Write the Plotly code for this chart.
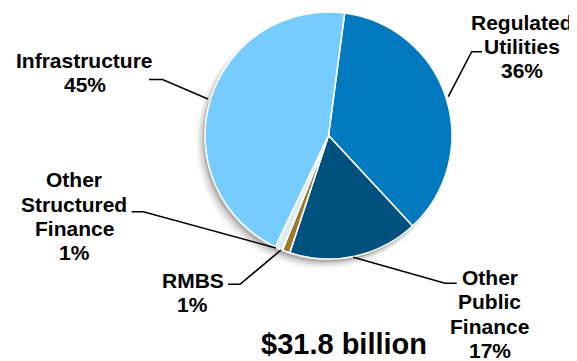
import plotly.graph_objects as go

# ---------------- data ----------------
categories = ["Regulated Utilities", "Other Public Finance", "RMBS",
              "Other Structured Finance", "Infrastructure"]
shares = [36, 17, 1, 1, 45]
colors = ["#0079BF", "#00527E", "#9C7A2C", "#DCEBF4", "#76CCFF"]
label_lines = {
    "Regulated Utilities": ["Regulated", "Utilities"],
    "Other Public Finance": ["Other", "Public", "Finance"],
    "RMBS": ["RMBS"],
    "Other Structured Finance": ["Other", "Structured", "Finance"],
    "Infrastructure": ["Infrastructure"],
}
total_label = "$31.8 billion"

# ---------------- layout helpers ----------------
# page body has an 8px default margin: the figure is drawn from (8, 8)
OFF = 8
W, H = 577 - OFF, 361 - OFF
CX, CY, R = 328.5, 135.5, 123.5
FONT = "Liberation Sans, Arial, sans-serif"


def px(x):
    return (x - OFF) / W


def py(y):
    return 1 - (y - OFF) / H


def dom(cx, cy, r):
    return dict(x=[px(cx - r), px(cx + r)], y=[py(cy + r), py(cy - r)])


fig = go.Figure()

# soft drop shadow (layered translucent discs)
for dx, dy, dr, a in [(-6, 7, 3, 0.035), (-5, 6, 2, 0.05), (-4, 5, 1, 0.07), (-3, 4, 0, 0.09), (-2, 3, 0, 0.1)]:
    fig.add_trace(go.Pie(values=[1], marker=dict(colors=[f"rgba(0,0,0,{a})"], line=dict(width=0)),
                         domain=dom(CX + dx, CY + dy, R + dr), textinfo="none",
                         hoverinfo="skip", showlegend=False, sort=False))

fig.add_trace(go.Pie(
    labels=categories, values=shares, sort=False, direction="clockwise",
    rotation=7.5, marker=dict(colors=colors, line=dict(color="white", width=1.6)),
    textinfo="none", showlegend=False, domain=dom(CX, CY, R),
))

# label placement: (center x, first line center y) and line spacing
label_pos = {
    "Regulated Utilities": (522, 22),
    "Other Public Finance": (489.5, 277.5),
    "RMBS": (192.5, 280),
    "Other Structured Finance": (74, 180),
    "Infrastructure": (84.5, 60.5),
}
spacing = 24.3
annotations = []
for cat, v in zip(categories, shares):
    lines = label_lines[cat] + [f"{v}%"]
    x0, y0 = label_pos[cat]
    for i, t in enumerate(lines):
        annotations.append(dict(
            x=px(x0), y=py(y0 + i * spacing), xref="paper", yref="paper",
            text=t, showarrow=False, xanchor="center", yanchor="middle",
            font=dict(family=FONT, size=21, color="black", weight="bold")))

annotations.append(dict(
    x=px(343.5), y=py(344), xref="paper", yref="paper", text=total_label,
    showarrow=False, xanchor="center", yanchor="middle",
    font=dict(family=FONT, size=29, color="black", weight="bold")))

# leader lines
leaders = [
    [(482, 51.7), (471.7, 51.7), (448.3, 96.7)],
    [(456.7, 283.3), (445, 283.3), (353.3, 257.3)],
    [(228, 284.3), (240, 284.3), (281, 250)],
    [(131.7, 211.7), (143.3, 211.7), (276, 248)],
    [(149, 79.5), (162.5, 79.5), (208, 99)],
]
shapes = []
for pts in leaders:
    d = "M " + " L ".join(f"{px(x)},{py(y)}" for x, y in pts)
    shapes.append(dict(type="path", path=d, xref="paper", yref="paper",
                       line=dict(color="black", width=1.6)))

fig.update_layout(
    width=W, height=H, margin=dict(l=0, r=0, t=0, b=0),
    paper_bgcolor="white", plot_bgcolor="white",
    annotations=annotations, shapes=shapes,
)

fig.write_html("out.html")
